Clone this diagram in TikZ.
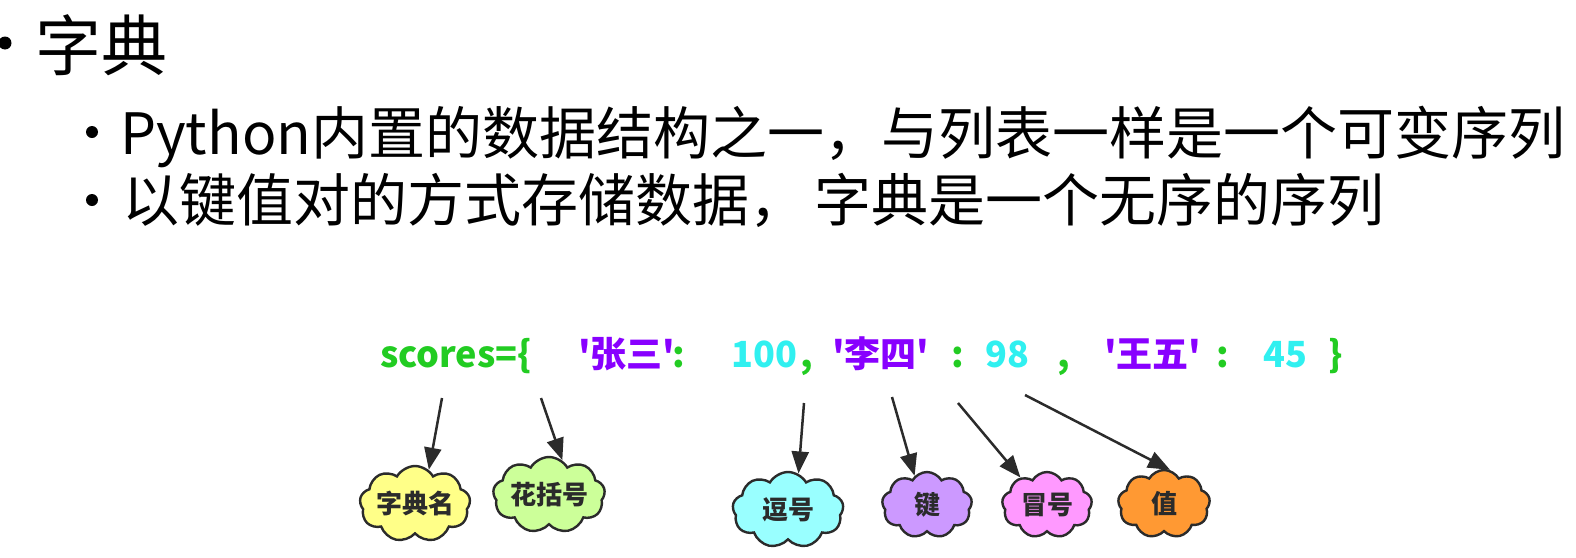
\documentclass[tikz,border=0pt]{standalone}
\usepackage{fontspec}
\usetikzlibrary{arrows.meta, positioning, shapes.symbols}
\newfontfamily\cjkfont{Noto Sans CJK SC}
\definecolor{inkdark}{HTML}{2B2B2B}
\definecolor{codegreen}{HTML}{22CC22}
\definecolor{keypurple}{HTML}{8800FF}
\definecolor{valcyan}{HTML}{30F0F0}
\definecolor{fillyellow}{HTML}{FFFF88}
\definecolor{filllime}{HTML}{CCFF99}
\definecolor{fillcyan}{HTML}{99FFFF}
\definecolor{fillpurple}{HTML}{CC99FF}
\definecolor{fillpink}{HTML}{FF99FF}
\definecolor{fillorange}{HTML}{FF9933}

\begin{document}
\begin{tikzpicture}[x=1pt, y=-1pt,
      title/.style={anchor=base west, inner sep=0pt,
                    font={\cjkfont\fontsize{66}{72}\selectfont}},
      item/.style={anchor=base west, inner sep=0pt,
                   font={\cjkfont\fontsize{57}{62}\selectfont}},
      dot/.style={circle, fill=black, inner sep=0pt, minimum size=#1},
      code/.style={anchor=base west, inner sep=0pt,
                   font={\cjkfont\bfseries\fontsize{36}{40}\selectfont}},
      sym/.style={code, text=codegreen},
      key/.style={code, text=keypurple},
      val/.style={code, text=valcyan},
      puff/.style={cloud, cloud puffs=9, cloud puff arc=120,
                   cloud ignores aspect, draw=inkdark, line width=2.4pt,
                   minimum width=#1, minimum height=76pt, inner sep=0pt,
                   text=inkdark, font={\cjkfont\bfseries\fontsize{26}{28}\selectfont}},
      pointer/.style={-{Triangle[length=22pt, width=17pt]},
                      line width=2.5pt, draw=inkdark}]
    \useasboundingbox (0,0) rectangle (1576,557);
    % bullets
    \node[dot=13pt] (b0) at (5,43) {};
    \node[title] (t0) at (35,70) {字典};
    \node[dot=12pt] (b1) at (92,132) {};
    \node[item] (t1) at (120,154) {Python内置的数据结构之一，与列表一样是一个可变序列};
    \node[dot=12pt] (b2) at (92,200) {};
    \node[item] (t2) at (122,221) {以键值对的方式存储数据，\hspace{8pt}字典是一个无序的序列};
    % the code line
    \node[sym] (name) at (380,367) {scores=\{};
    \node[key] (k1)   at (578,367) {'张三'};
    \node[sym] (col1) at (672,367) {:};
    \node[val] (v1)   at (731,367) {100};
    \node[sym] (cm1)  at (800,367) {,};
    \node[key] (k2)   at (832,367) {'李四'};
    \node[sym] (col2) at (951,367) {:};
    \node[val] (v2)   at (985,367) {98};
    \node[sym] (cm2)  at (1057,367) {,};
    \node[key] (k3)   at (1104,367) {'王五'};
    \node[sym] (col3) at (1216,367) {:};
    \node[val] (v3)   at (1263,367) {45};
    \node[sym] (rbr)  at (1328,367) {\}};
    % clouds
    \node[puff=110pt, fill=fillyellow] (c1) at (415,504) {字典名};
    \node[puff=112pt, fill=filllime]   (c2) at (549,495) {花括号};
    \node[puff=111pt, fill=fillcyan]   (c3) at (788,510) {逗号};
    \node[puff=90pt, minimum height=66pt, fill=fillpurple] (c4) at (927,505) {键};
    \node[puff=90pt, minimum height=66pt, fill=fillpink]   (c5) at (1047,505) {冒号};
    \node[puff=92pt, minimum height=68pt, fill=fillorange] (c6) at (1164,504) {值};
    % arrow tails under the code
    \coordinate (p1) at (442,398);
    \coordinate (p2) at (541,398);
    \coordinate (p3) at (804,403);
    \coordinate (p4) at (892,397);
    \coordinate (p5) at (958,403);
    \coordinate (p6) at (1025,395);
    \draw[pointer] (p1) -- (c1.68);
    \draw[pointer] (p2) -- (c2.69);
    \draw[pointer] (p3) -- (c3.74);
    \draw[pointer] (p4) -- (c4.113);
    \draw[pointer] (p5) -- (c5.134);
    \draw[pointer] (p6) -- (c6.80);
\end{tikzpicture}
\end{document}
